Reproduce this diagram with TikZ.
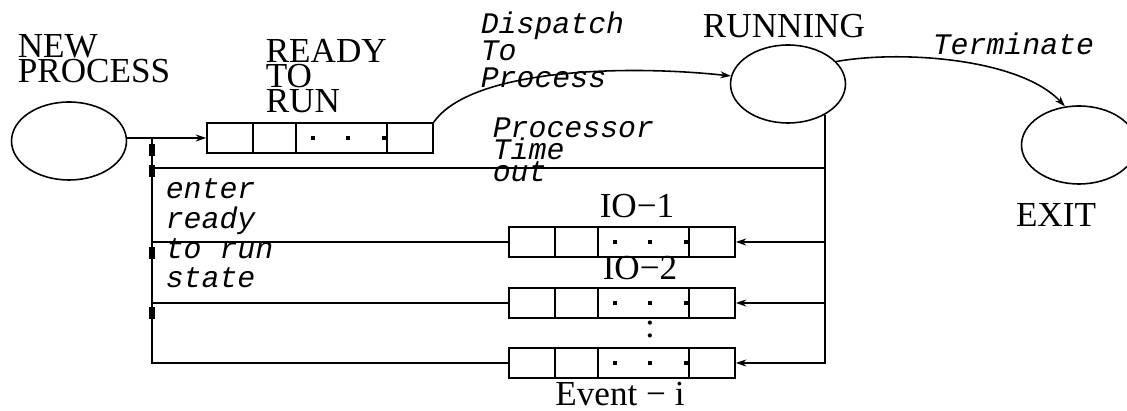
\documentclass[tikz,border=0pt]{standalone}
\usepackage{fontspec}
\setmainfont{Liberation Serif}
\setmonofont{Liberation Mono}
\usetikzlibrary{calc,shapes.geometric,arrows.meta}

% one queue: box, three dividers, three dots
\newcommand{\queue}[2]{%
  \node[qbox] (#1) at (#2) {};
  \foreach \dx in {47,90,181}
    \draw ($(#1.north west)+(\dx,0)$) -- ($(#1.south west)+(\dx,0)$);
  \foreach \dx in {107,142,178}
    \fill ($(#1.west)+(\dx,0)$) ++(-2,-2) rectangle ++(4,4);
}

\begin{document}
\begin{tikzpicture}[x=0.02cm, y=-0.02cm, line width=0.9pt,
    state/.style={draw, ellipse, minimum width=2.3cm, minimum height=1.56cm, inner sep=0pt},
    qbox/.style={draw, rectangle, minimum width=4.52cm, minimum height=0.6cm, inner sep=0pt},
    big/.style={font=\fontsize{20}{#1}\selectfont, align=left, inner sep=0pt},
    big/.default=12pt,
    mono/.style={font=\fontsize{17}{#1}\selectfont\ttfamily\itshape, align=left, inner sep=0pt},
    mono/.default=15pt,
    arr/.style={-{Stealth[length=6pt,width=4pt]}}]
    \useasboundingbox (0,0) rectangle (1127,411);

    % states
    \node[state] (newp) at (69,141) {};
    \node[state] (running) at (788,84) {};
    \node[state] (exitn) at (1079,145) {};

    % queues
    \queue{ready}{320,138}
    \queue{ioa}{622,242}
    \queue{iob}{622,303}
    \queue{evq}{622,363}

    % labels (base = last line)
    \node[big, anchor=base west] (newlbl) at (17,83) {NEW\\PROCESS};
    \node[big=11.4pt, anchor=base west] (readylbl) at (265,113) {READY\\TO\\RUN};
    \node[big, anchor=base] (runlbl) at (784,38) {RUNNING};
    \node[big, anchor=base] (exitlbl) at (1056,227) {EXIT};
    \node[big, anchor=base] (ioalbl) at (637,218) {IO−1};
    \node[big, anchor=base] (ioblbl) at (640,280) {IO−2};
    \node[big, anchor=base] (moredots) at (650,338) {:};
    \node[big, anchor=base] (evlbl) at (620,406) {Event − i};

    \node[mono=15.4pt, anchor=base west] (displbl) at (480,88) {Dispatch\\To\\Process};
    \node[mono=12.8pt, anchor=base west] (toutlbl) at (492,182) {Processor\\Time\\out};
    \node[mono, anchor=base west] (termlbl) at (932,55) {Terminate};
    \node[mono=17pt, anchor=base west] (enterlbl) at (165,288) {enter\\ready\\to run\\state};

    % connectors
    \coordinate (lft) at (152,138);
    \coordinate (tout) at (152,168);
    \draw[arr] (newp.east |- ready.west) -- (ready.west);
    \draw (lft) -- (lft |- evq.west) -- (evq.west);
    \draw (lft |- ioa.west) -- (ioa.west);
    \draw (lft |- iob.west) -- (iob.west);
    \foreach \y in {150,171,253,313}
      \fill (152,\y) ++(-3,-6) rectangle ++(6,12);

    \draw[arr] (running.-40) -- (running.-40 |- evq.east) -- (evq.east);
    \draw[arr] (running.-40 |- ioa.east) -- (ioa.east);
    \draw[arr] (running.-40 |- iob.east) -- (iob.east);
    \draw (running.-40 |- tout) -- (tout);

    \draw[arr] (ready.north east) .. controls (470,70) and (620,64) .. (running.172);
    \draw[arr] (running.25) .. controls (900,50) and (1020,58) .. (exitn.110);
\end{tikzpicture}
\end{document}
